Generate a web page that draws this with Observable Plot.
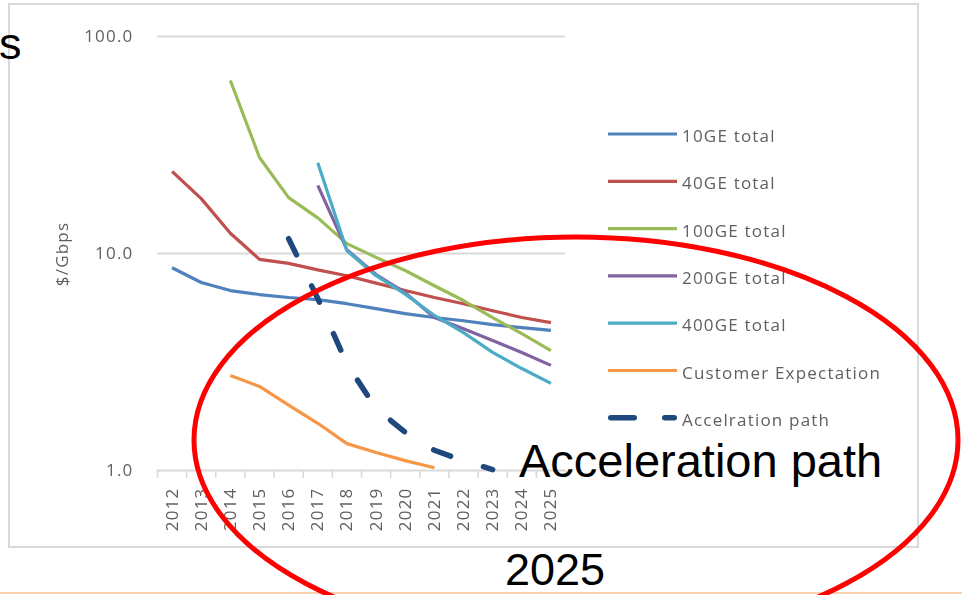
<!DOCTYPE html>
<html>
<head>
<meta charset="utf-8">
<script src="https://cdn.jsdelivr.net/npm/d3@7"></script>
<script src="https://cdn.jsdelivr.net/npm/@observablehq/plot@0.6"></script>
<style>
  html, body { margin: 0; padding: 0; background: #fff; }
  #wrap { position: relative; width: 962px; height: 595px; overflow: hidden; background: #fff; }
  #chart svg { display: block; filter: blur(0.6px); }
  #notes { position: absolute; left: 0; top: 0; }
</style>
</head>
<body>
<div id="wrap">
  <div id="chart"></div>
  <svg id="notes" width="962" height="595"></svg>
</div>
<script>
// Price per Gbps by port generation, 2012-2025 (log scale)
const years = [2012, 2013, 2014, 2015, 2016, 2017, 2018, 2019, 2020, 2021, 2022, 2023, 2024, 2025];

const ge10     = [8.6, 7.35, 6.75, 6.47, 6.27, 6.13, 5.87, 5.57, 5.28, 5.07, 4.9, 4.7, 4.55, 4.42];
const ge40     = [23.9, 17.9, 12.4, 9.4, 9.0, 8.4, 7.9, 7.3, 6.75, 6.27, 5.87, 5.45, 5.07, 4.8];
const ge100    = [null, null, 62.7, 27.7, 18.1, 14.6, 11.1, 9.6, 8.35, 7.1, 6.07, 5.07, 4.27, 3.57];
const ge200    = [null, null, null, null, null, 20.6, 10.4, 8.0, 6.6, 5.07, 4.5, 3.97, 3.5, 3.05];
const ge400    = [null, null, null, null, null, 26.2, 10.3, 7.9, 6.5, 5.18, 4.32, 3.5, 2.95, 2.52];
const customer = [null, null, 2.74, 2.44, 2.0, 1.65, 1.33, 1.21, 1.11, 1.03, null, null, null, null];
const accel    = [null, null, null, null, 11.7, 6.2, 3.1, 1.93, 1.5, 1.24, 1.11, 1.01, null, null];

const seriesNames  = ["10GE total", "40GE total", "100GE total", "200GE total", "400GE total", "Customer Expectation", "Accelration path"];
const seriesColors = ["#4f81bd", "#c0504d", "#9bbb59", "#8064a2", "#4bacc6", "#f79646", "#1f497d"];
const seriesValues = [ge10, ge40, ge100, ge200, ge400, customer, accel];

const yTicks = [1, 10, 100];
const yearBounds = [...years.map(y => y - 0.5), years[years.length - 1] + 0.5];

const rows = seriesValues.flatMap((vals, i) =>
  years.map((year, j) => ({series: seriesNames[i], year, value: vals[j]}))
);

const lineMarks = seriesNames.map((name, i) => {
  const data = rows.filter(d => d.series === name);
  const dashed = i === seriesNames.length - 1;
  return Plot.line(data, {
    x: "year",
    y: "value",
    stroke: seriesColors[i],
    strokeWidth: dashed ? 5.5 : 3.2,
    strokeLinejoin: "round",
    strokeLinecap: dashed ? "round" : "butt",
    strokeDasharray: dashed ? "18,34.5" : null
  });
});

const chart = Plot.plot({
  width: 962,
  height: 595,
  marginLeft: 157,
  marginRight: 397,
  marginTop: 36,
  marginBottom: 125,
  style: {font: "17px 'Open Sans'", letterSpacing: "1.2px", background: "#fff"},
  x: {type: "linear", domain: [2011.5, 2025.5]},
  y: {type: "log", domain: [1, 100]},
  marks: [
    Plot.ruleY(yTicks, {stroke: "#d9d9d9", strokeWidth: 1.8}),
    Plot.axisX({ticks: yearBounds, tickSize: 8, tickFormat: () => "", stroke: "#d9d9d9", strokeWidth: 1.6, label: null}),
    Plot.axisX({ticks: years, tickSize: 0, tickPadding: 17, tickRotate: -90, tickFormat: d => String(d), fill: "#5f5f5f", fontSize: 17, label: null}),
    Plot.axisY({ticks: yTicks, tickSize: 0, tickPadding: 24, tickFormat: d3.format(".1f"), fill: "#5f5f5f", fontSize: 17, label: null}),
    ...lineMarks
  ]
});

document.getElementById("chart").appendChild(chart);

const svg = d3.select(chart);

// chart frame
svg.insert("rect", ":first-child")
  .attr("x", 9).attr("y", 4).attr("width", 909).attr("height", 543)
  .attr("fill", "#fff").attr("stroke", "#d9d9d9").attr("stroke-width", 2);

// y axis title
svg.append("text")
  .attr("transform", "translate(62,254) rotate(-90)")
  .attr("text-anchor", "middle").attr("dy", "0.35em")
  .attr("fill", "#5f5f5f").style("font-size", "17px")
  .text("$/Gbps");

// legend
const legend = svg.append("g").attr("text-anchor", "start");
seriesNames.forEach((name, i) => {
  const y = 134 + i * 47.3;
  const dashed = i === seriesNames.length - 1;
  legend.append("line")
    .attr("x1", dashed ? 610.75 : 608).attr("x2", dashed ? 674.25 : 677)
    .attr("y1", y).attr("y2", y)
    .attr("stroke", seriesColors[i])
    .attr("stroke-width", dashed ? 5.5 : 3.2)
    .attr("stroke-linecap", dashed ? "round" : "butt")
    .attr("stroke-dasharray", dashed ? "23.5,30.5" : null);
  legend.append("text")
    .attr("x", 682).attr("y", y + 2).attr("dy", "0.36em")
    .attr("text-anchor", "start")
    .attr("fill", "#5f5f5f").style("font-size", "17px")
    .text(name);
});

// annotation layer
const notes = d3.select("#notes");
notes.append("line")
  .attr("x1", 0).attr("x2", 962).attr("y1", 593).attr("y2", 593)
  .attr("stroke", "#fbd0ad").attr("stroke-width", 2);
notes.append("ellipse")
  .attr("cx", 576).attr("cy", 440).attr("rx", 382).attr("ry", 203)
  .attr("fill", "none").attr("stroke", "#ff0000").attr("stroke-width", 5);
const noteFont = "'Liberation Sans', Arial, sans-serif";
notes.append("text")
  .attr("x", -1).attr("y", 59)
  .style("font-family", noteFont).style("font-size", "45px").attr("fill", "#000")
  .text("s");
notes.append("text")
  .attr("x", 519).attr("y", 477)
  .style("font-family", noteFont).style("font-size", "47px").attr("fill", "#000")
  .text("Acceleration path");
notes.append("text")
  .attr("x", 505).attr("y", 585)
  .style("font-family", noteFont).style("font-size", "45px").attr("fill", "#000")
  .text("2025");
</script>
</body>
</html>
